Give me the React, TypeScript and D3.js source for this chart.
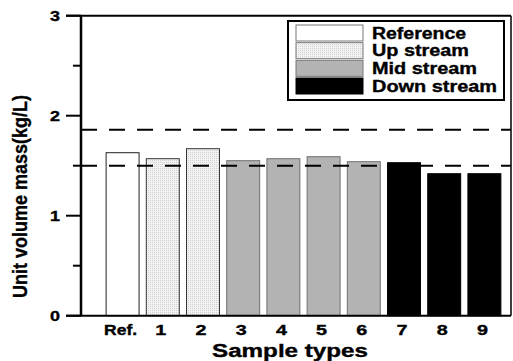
import React from 'react';
import * as d3 from 'd3';

const categories = ['Ref.', '1', '2', '3', '4', '5', '6', '7', '8', '9'];
const values = [1.63, 1.57, 1.67, 1.55, 1.57, 1.59, 1.54, 1.53, 1.42, 1.42];
const groups = ['Reference', 'Up stream', 'Up stream', 'Mid stream', 'Mid stream', 'Mid stream', 'Mid stream', 'Down stream', 'Down stream', 'Down stream'];
const legendLabels = ['Reference', 'Up stream', 'Mid stream', 'Down stream'];
const legendLengths = [94, 97, 105, 125];
const refLines = [1.86, 1.5];
const majorTicks = [0, 1, 2, 3];
const minorTicks = [0.5, 1.5, 2.5];

const fills: Record<string, string> = {
  'Reference': '#ffffff',
  'Up stream': 'url(#dots)',
  'Mid stream': '#b3b3b3',
  'Down stream': '#000000',
};
const strokes: Record<string, string> = {
  'Reference': '#222',
  'Up stream': '#333',
  'Mid stream': '#6e6e6e',
  'Down stream': '#000',
};

const font = '"Liberation Sans", Arial, sans-serif';

export default function App() {
  const width = 513;
  const height = 361;
  const left = 81, right = 511, top = 15.7, bottom = 315.7;

  const y = d3.scaleLinear().domain([0, 3]).range([bottom, top]);
  const x = d3.scaleBand().domain(categories).range([102.5, 504.5]).paddingInner(0.18).paddingOuter(0.09);
  const legendY = d3.scaleLinear().domain([0, 3]).range([25, 78]);

  // heavier text like the original export
  const txt = { stroke: '#000', strokeWidth: 0.35 };

  return (
    <svg width={width} height={height} style={{ position: 'absolute', left: 0, top: 0 }} fontFamily={font} fontWeight="bold">
      <defs>
        <pattern id="dots" width="2" height="2" patternUnits="userSpaceOnUse">
          <rect width="2" height="2" fill="#f2f2f2" />
          <rect width="1" height="1" fill="#d2d2d2" />
        </pattern>
      </defs>
      <rect width={width} height={height} fill="#fff" />

      {/* bars */}
      {categories.map((c, i) => (
        <rect key={c} x={x(c)} y={y(values[i])} width={x.bandwidth()} height={bottom - y(values[i])}
          fill={fills[groups[i]]} stroke={strokes[groups[i]]} strokeWidth={1} />
      ))}

      {/* dashed reference lines */}
      {refLines.map(v => (
        <line key={v} x1={left} x2={right} y1={y(v)} y2={y(v)} stroke="#000" strokeWidth={2} strokeDasharray="16 12" />
      ))}

      {/* frame */}
      <line x1={66} x2={right} y1={top} y2={top} stroke="#000" strokeWidth={2} />
      <line x1={66} x2={right} y1={bottom} y2={bottom} stroke="#000" strokeWidth={2} />
      <line x1={left} x2={left} y1={top} y2={bottom} stroke="#000" strokeWidth={2.5} />
      <line x1={right} x2={right} y1={top} y2={bottom} stroke="#000" strokeWidth={1.5} />

      {/* y ticks */}
      {majorTicks.map(t => (
        <g key={t}>
          <line x1={66} x2={left} y1={y(t)} y2={y(t)} stroke="#000" strokeWidth={2} />
          <text x={60} y={y(t) + 5.5} textAnchor="end" fontSize={15} textLength={10} lengthAdjust="spacingAndGlyphs" {...txt}>{t}</text>
        </g>
      ))}
      {minorTicks.map(t => (
        <line key={t} x1={73} x2={left} y1={y(t)} y2={y(t)} stroke="#000" strokeWidth={2} />
      ))}

      {/* x tick labels */}
      {categories.map(c => (
        <text key={c} x={x(c)! + x.bandwidth() / 2 - 2} y={335} textAnchor="middle" fontSize={14.5}
          textLength={c === 'Ref.' ? 33 : 11} lengthAdjust="spacingAndGlyphs" {...txt}>{c}</text>
      ))}

      {/* axis titles */}
      <text x={290} y={357} textAnchor="middle" fontSize={18} textLength={156} lengthAdjust="spacingAndGlyphs" {...txt}>Sample types</text>
      <text transform="translate(27,196.5) rotate(-90)" textAnchor="middle" fontSize={21} textLength={203} lengthAdjust="spacingAndGlyphs" {...txt}>Unit volume mass(kg/L)</text>

      {/* legend */}
      <rect x={288} y={21} width={216} height={79} fill="#fff" stroke="#000" strokeWidth={2} />
      {legendLabels.map((l, i) => (
        <g key={l}>
          <rect x={296} y={legendY(i)} width={67} height={16} fill={fills[l]} stroke={l === 'Down stream' ? '#000' : '#777'} strokeWidth={1} />
          <text x={372} y={legendY(i) + 13.5} fontSize={16} textLength={legendLengths[i]} lengthAdjust="spacingAndGlyphs" {...txt}>{l}</text>
        </g>
      ))}
    </svg>
  );
}
